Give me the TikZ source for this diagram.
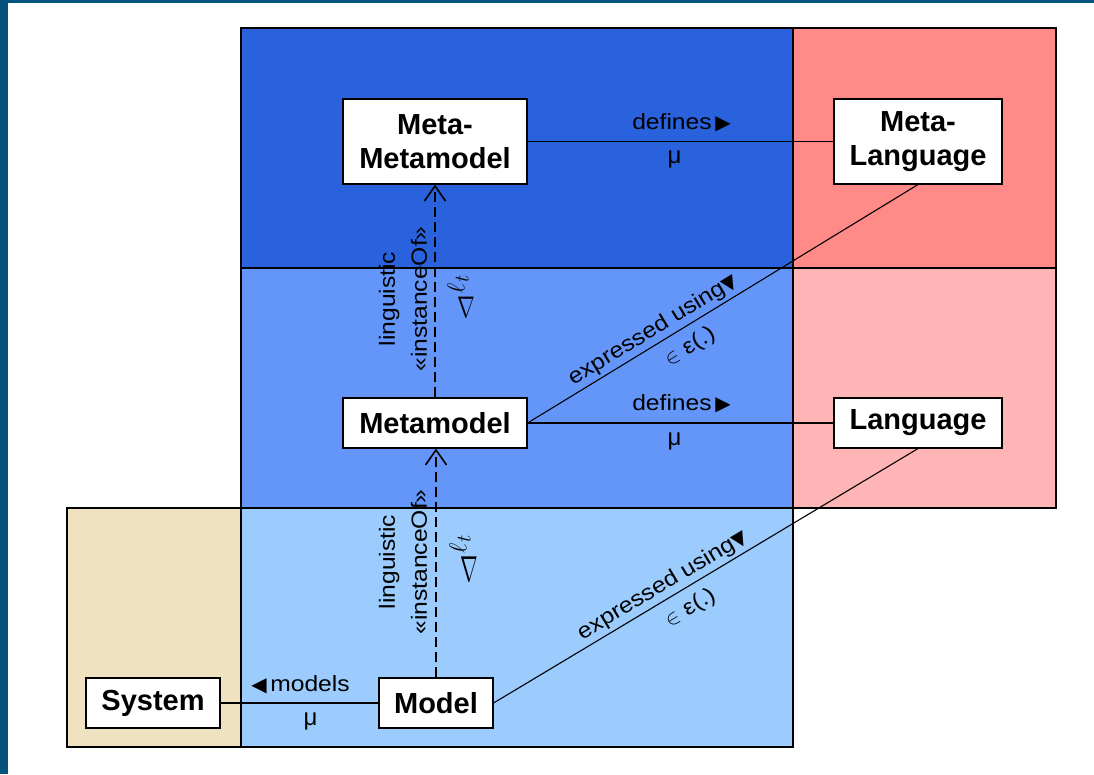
\documentclass[tikz,border=0pt]{standalone}
\usepackage{fontspec}
\setmainfont{Liberation Sans}
\newfontfamily\labelfont{Liberation Sans}[FakeStretch=1.12]
\newfontfamily\symfont{DejaVu Sans}
\usetikzlibrary{arrows.meta}

\definecolor{framecol}{RGB}{4,82,126}
\definecolor{lvlthree}{RGB}{41,98,220}
\definecolor{lvltwo}{RGB}{100,150,250}
\definecolor{lvlone}{RGB}{155,204,253}
\definecolor{langtop}{RGB}{255,138,135}
\definecolor{langmid}{RGB}{255,181,181}
\definecolor{world}{RGB}{239,226,192}

\newcommand{\rtri}{{\symfont\fontsize{20}{20}\selectfont ▶}}
\newcommand{\ltri}{{\symfont\fontsize{20}{20}\selectfont ◀}}
\newcommand{\dtri}{{\symfont\fontsize{19}{19}\selectfont ▼}}

\tikzset{
  band/.style={draw=black, line width=1.3pt},
  elem/.style={draw=black, fill=white, line width=1.1pt, inner sep=2pt,
    align=center, font=\fontsize{29}{36}\selectfont\bfseries},
  conn/.style={draw=black, line width=1.1pt},
  inst/.style={draw=black, line width=1.8pt, dash pattern=on 10pt off 5pt,
    -{Straight Barb[length=15pt,width=21pt,line width=1.6pt]}},
  lbl/.style={inner sep=0pt, font=\labelfont\fontsize{22}{32}\selectfont},
  greek/.style={inner sep=0pt, font=\fontsize{24}{28}\selectfont},
  ellsym/.style={rotate=90, inner sep=0pt, font=\fontsize{32}{32}\selectfont},
  nabsym/.style={inner sep=0pt, font=\fontsize{26}{26}\selectfont}
}

\begin{document}
\begin{tikzpicture}[x=1pt,y=-1pt]
\useasboundingbox (0,0) rectangle (1094,774);
\fill[white] (0,0) rectangle (1094,774);
% outer frame
\fill[framecol] (0,0) rectangle (1094,3);
\fill[framecol] (0,0) rectangle (8,774);

% levels
\path[band, fill=lvlthree] (241,28) rectangle (793,268);
\path[band, fill=langtop] (793,28) rectangle (1056,268);
\path[band, fill=lvltwo] (241,268) rectangle (793,508);
\path[band, fill=langmid] (793,268) rectangle (1056,508);
\path[band, fill=world] (67,508) rectangle (241,747);
\path[band, fill=lvlone] (241,508) rectangle (793,747);

% elements
\node[elem, minimum width=184pt, minimum height=85pt] (mmm) at (435,141.5) {Meta-\\[-2pt]Metamodel};
\node[elem, minimum width=168pt, minimum height=85pt] (ml) at (918,141.5) {Meta-\\[-2pt]Language};
\node[elem, minimum width=184pt, minimum height=50pt] (mm) at (435,423) {Metamodel};
\node[elem, minimum width=168pt, minimum height=50pt] (lang) at (918,423) {Language};
\node[elem, minimum width=134pt, minimum height=50pt] (sys) at (153,703) {System};
\node[elem, minimum width=114pt, minimum height=50pt] (model) at (436,703) {Model};

% defines relations
\draw[conn] (mmm.east) -- node[lbl, above=9pt, xshift=1pt] (def1) {defines\,\rtri}
  node[greek, below=9pt, xshift=-6pt] (mu1) {μ} (ml.west);
\draw[conn] (mm.east) -- node[lbl, above=9pt, xshift=1pt] (def2) {defines\,\rtri}
  node[greek, below=9pt, xshift=-6pt] (mu2) {μ} (lang.west);

% models relation
\draw[conn] (sys.east) -- node[lbl, above=9pt, xshift=1pt] (mod) {\ltri\,models}
  node[greek, below=9pt, xshift=11pt] (mu3) {μ} (model.west);

% expressed using
\draw[conn] (mm.east) -- node[lbl, sloped, pos=0.34, above=3pt] (exp1) {expressed using\dtri}
  node[lbl, sloped, pos=0.39, below=9pt] (in1) {$\in$ ε(.)} (ml.south);
\draw[conn] (model.east) -- node[lbl, sloped, pos=0.415, above=3pt] (exp2) {expressed using\dtri}
  node[lbl, sloped, pos=0.44, below=9pt] (in2) {$\in$ ε(.)} (lang.south);

% linguistic instanceOf
\draw[inst] (model.north) -- (model.north |- mm.south);
\draw[inst] (mm.north) -- (mm.north |- mmm.south);

\node[lbl, rotate=90, align=center] (li2) at (403,299) {linguistic\\«instanceOf»};
\node[lbl, rotate=90, align=center] (li1) at (403,562) {linguistic\\«instanceOf»};

\node[ellsym] (ell2) at (458,284) {$\ell_{t}$};
\node[nabsym] (nab2) at (466,307) {\scalebox{0.85}[1.2]{$\nabla$}};
\node[ellsym] (ell1) at (460,544) {$\ell_{t}$};
\node[nabsym] (nab1) at (469,569) {\scalebox{0.85}[1.45]{$\nabla$}};
\end{tikzpicture}
\end{document}
